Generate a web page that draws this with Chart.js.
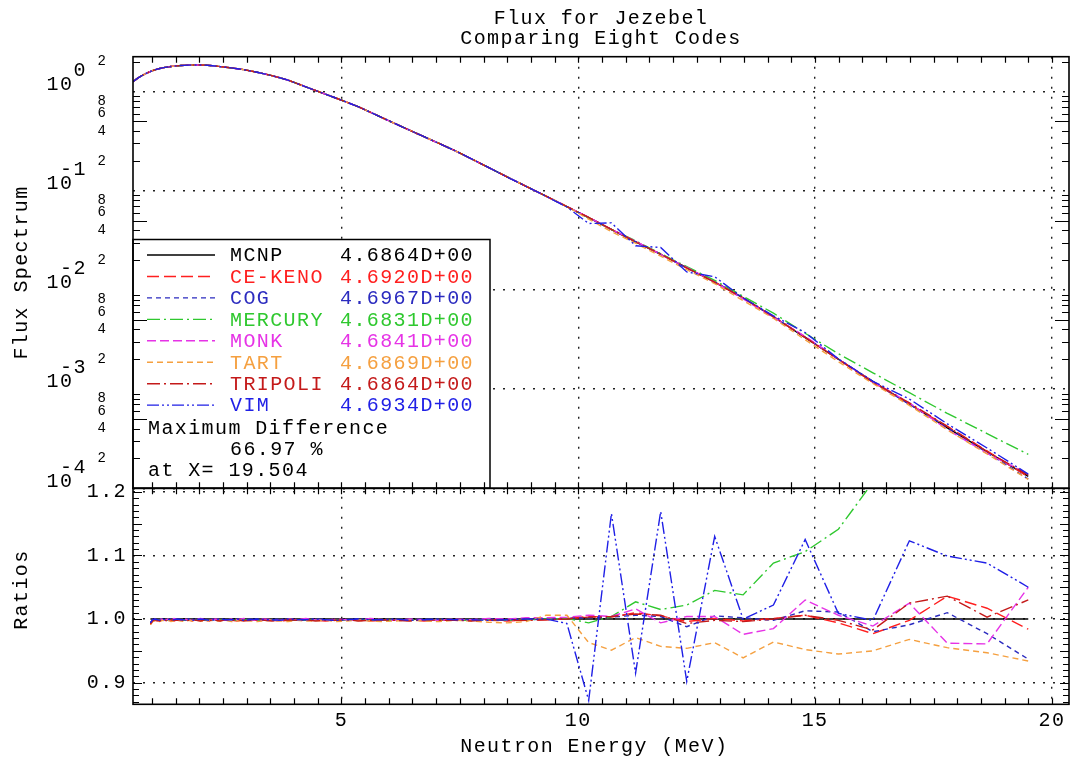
<!DOCTYPE html>
<html>
<head>
<meta charset="utf-8">
<title>Flux for Jezebel</title>
<script src="https://cdn.jsdelivr.net/npm/chart.js@4.4.1/dist/chart.umd.min.js"></script>
<style>
html,body{margin:0;padding:0;background:#fff;overflow:hidden}
#c{display:block}
</style>
</head>
<body>
<canvas id="c" width="1072" height="761"></canvas>
<script>
// ---------------- data ----------------
const codeNames  = ['MCNP','CE-KENO','COG','MERCURY','MONK','TART','TRIPOLI','VIM'];
const codeTotals = ['4.6864D+00','4.6920D+00','4.6967D+00','4.6831D+00','4.6841D+00','4.6869D+00','4.6864D+00','4.6934D+00'];

// energies (MeV)
const energyFluxOnly = [0.60, 0.70, 0.80, 0.90];
const energyLow = [
  0.968,1.014,1.062,1.112,1.165,1.220,1.277,1.338,1.401,1.467,
  1.537,1.610,1.686,1.765,1.849,1.936,2.028,2.124,2.224,2.329,
  2.440,2.555,2.676,2.802,2.935,3.074,3.219,3.371,3.531,3.698,
  3.873,4.056,4.248,4.448,4.659,4.879,5.110,5.352,5.605,5.870,
  6.147,6.438,6.743,7.062,7.396,7.746,8.112,8.496,8.898];
const energyHigh = [9.32,9.76,10.22,10.70,11.21,11.74,12.29,12.88,13.48,14.12,14.79,15.49,16.22,16.99,17.79,18.63,19.50];

// flux below 9.3 MeV (all eight codes coincide there)
const fluxLow = [
  1.259,1.368,1.462,1.545,
  1.596,1.629,1.660,1.687,1.710,1.734,1.754,1.774,1.791,1.807,
  1.820,1.832,1.841,1.849,1.854,1.858,1.858,1.849,1.837,1.816,
  1.786,1.762,1.734,1.702,1.667,1.618,1.567,1.510,1.449,1.380,
  1.306,1.211,1.117,1.030,0.944,0.863,0.783,0.705,0.622,0.543,
  0.472,0.408,0.351,0.300,0.254,0.210,0.171,0.138,0.111];

// flux above 9.3 MeV, one list per code
const fluxHighMCNP    = [0.0883,0.0692,0.0537,0.0407,0.0305,0.0229,0.0168,0.0120,0.00832,0.00537,0.00331,0.00200,0.00120,0.000708,0.000407,0.000234,0.000132];
const fluxHighKENO    = [0.0882,0.0693,0.0539,0.0408,0.0308,0.0230,0.0167,0.0120,0.00830,0.00538,0.00333,0.00199,0.00117,0.000707,0.000422,0.000238,0.000130];
const fluxHighCOG     = [0.0883,0.0693,0.0538,0.0408,0.0307,0.0230,0.0166,0.0121,0.00834,0.00536,0.00335,0.00202,0.00118,0.000702,0.000411,0.000229,0.000124];
const fluxHighMERCURY = [0.0883,0.0693,0.0534,0.0409,0.0313,0.0232,0.0172,0.0125,0.00864,0.00584,0.00366,0.00228,0.00146,0.000920,0.000570,0.000356,0.000220];
const fluxHighMONK    = [0.0885,0.0694,0.0540,0.0409,0.0310,0.0228,0.0169,0.0120,0.00812,0.00529,0.00341,0.00201,0.00119,0.000726,0.000392,0.000225,0.000139];
const fluxHighTART    = [0.0888,0.0696,0.0517,0.0387,0.0296,0.0219,0.0160,0.0116,0.00781,0.00518,0.00315,0.00189,0.00114,0.000685,0.000389,0.000222,0.000123];
const fluxHighTRIPOLI = [0.0882,0.0692,0.0539,0.0409,0.0307,0.0230,0.0167,0.0120,0.00829,0.00537,0.00333,0.00200,0.00118,0.000726,0.000422,0.000235,0.000136];
const fluxHighVIM     = [0.0883,0.0687,0.0468,0.0475,0.0279,0.0268,0.0152,0.0136,0.00832,0.00549,0.00372,0.00202,0.00120,0.000795,0.000447,0.000255,0.000139];

// ratios to MCNP, below 9.3 MeV
const ratioLowMCNP = [
  1,1,1,1,1,1,1,1,1,1, 1,1,1,1,1,1,1,1,1,1, 1,1,1,1,1,1,1,1,1,1, 1,1,1,1,1,1,1,1,1,1, 1,1,1,1,1,1,1,1,1];
const ratioLowKENO = [
  0.992,0.996,0.998,0.997,0.999,0.997,0.998,0.999,0.998,0.997,
  0.999,0.998,0.998,0.999,0.997,0.998,0.999,0.998,0.997,0.998,
  0.999,0.998,0.998,0.997,0.999,0.998,0.998,0.999,0.998,0.997,
  0.998,0.999,0.998,0.998,0.997,0.998,0.999,0.998,0.997,0.998,
  0.998,0.999,0.997,0.998,0.998,0.999,0.998,0.997,0.998];
const ratioLowCOG = [
  0.995,0.998,1.000,0.999,0.998,1.000,0.999,0.998,1.000,0.999,
  0.999,1.000,0.998,0.999,1.000,0.999,0.998,0.999,1.000,0.999,
  0.998,1.000,0.999,0.999,0.998,1.000,0.999,0.998,0.999,1.000,
  0.999,0.999,0.998,1.000,0.999,0.998,0.999,1.000,0.999,0.999,
  0.998,0.999,1.000,0.999,0.998,0.999,1.000,0.999,0.999];
const ratioLowMERCURY = [
  0.994,0.997,0.999,0.998,0.998,0.999,0.998,0.999,0.998,0.998,
  0.999,0.999,0.998,0.998,0.999,0.998,0.999,0.998,0.998,0.999,
  0.998,0.999,0.999,0.998,0.998,0.999,0.998,0.999,0.998,0.998,
  0.999,0.998,0.998,0.999,0.998,0.999,0.998,0.998,0.999,0.998,
  0.998,0.999,0.998,0.999,0.998,0.998,0.999,0.998,0.999];
const ratioLowMONK = [
  0.993,0.998,1.000,0.998,1.001,0.999,0.998,1.000,0.999,1.001,
  0.999,0.998,1.000,0.999,0.998,1.000,1.001,0.999,0.998,1.000,
  0.999,0.998,1.000,0.999,1.001,0.998,0.999,1.000,0.999,0.998,
  1.000,0.999,1.001,0.999,0.998,1.000,0.999,0.998,1.001,0.999,
  0.998,1.000,0.999,0.998,1.000,0.999,1.001,1.000,1.002];
const ratioLowTART = [
  0.991,0.996,0.998,0.997,0.996,0.998,0.997,0.998,0.996,0.997,
  0.998,0.997,0.996,0.998,0.997,0.998,0.997,0.996,0.998,0.997,
  0.997,0.998,0.996,0.997,0.998,0.997,0.996,0.997,0.998,0.997,
  0.996,0.998,0.997,0.997,0.998,0.996,0.997,0.998,0.997,0.996,
  0.997,0.998,0.997,0.996,0.998,0.997,0.995,0.994,0.996];
const ratioLowTRIPOLI = [
  0.992,0.997,0.999,0.998,0.997,0.999,0.998,0.997,0.999,0.998,
  0.998,0.999,0.997,0.998,0.999,0.998,0.997,0.999,0.998,0.998,
  0.997,0.999,0.998,0.999,0.997,0.998,0.999,0.998,0.997,0.998,
  0.999,0.998,0.999,0.997,0.998,0.998,0.999,0.997,0.998,0.999,
  0.998,0.997,0.999,0.998,0.998,0.997,0.999,0.998,0.998];
const ratioLowVIM = [
  0.994,0.999,1.000,0.999,0.998,1.000,0.999,1.000,0.998,0.999,
  1.000,0.999,0.999,1.000,0.998,0.999,1.000,0.999,0.998,0.999,
  1.000,0.999,0.999,1.000,0.998,0.999,1.000,0.999,0.999,0.998,
  1.000,0.999,0.999,1.000,0.999,0.998,0.999,1.000,0.999,0.999,
  1.000,0.998,0.999,1.000,0.999,0.999,0.998,0.999,1.000];

// ratios to MCNP, above 9.3 MeV
const ratioHighMCNP    = [1,1,1,1,1,1,1,1,1,1,1,1,1,1,1,1,1];
const ratioHighKENO    = [0.999,1.001,1.004,1.003,1.010,1.005,0.996,1.001,0.997,1.001,1.006,0.994,0.977,0.998,1.036,1.017,0.984];
const ratioHighCOG     = [1.000,1.001,1.002,1.003,1.006,1.004,0.988,1.005,1.002,0.998,1.013,1.011,0.980,0.991,1.010,0.977,0.937];
const ratioHighMERCURY = [1.000,1.001,0.994,1.004,1.027,1.015,1.022,1.045,1.038,1.088,1.106,1.141,1.215,1.300,1.400,1.520,1.670];
const ratioHighMONK    = [1.002,1.003,1.006,1.004,1.016,0.994,1.004,1.004,0.976,0.985,1.030,1.006,0.989,1.025,0.962,0.961,1.050];
const ratioHighTART    = [1.006,1.006,0.963,0.951,0.971,0.957,0.954,0.963,0.939,0.964,0.952,0.945,0.950,0.968,0.955,0.947,0.934];
const ratioHighTRIPOLI = [0.999,1.000,1.003,1.004,1.008,1.006,0.993,0.998,0.996,1.000,1.006,0.998,0.983,1.025,1.036,1.003,1.030];
const ratioHighVIM     = [1.000,0.993,0.872,1.166,0.915,1.169,0.902,1.130,1.000,1.022,1.125,1.009,0.998,1.123,1.099,1.088,1.050];

// tick values / labels
const xTickValues     = [5, 10, 15, 20];
const fluxTickValues  = [1e-4,2e-4,4e-4,6e-4,8e-4, 1e-3,2e-3,4e-3,6e-3,8e-3, 1e-2,2e-2,4e-2,6e-2,8e-2, 1e-1,2e-1,4e-1,6e-1,8e-1, 1,2];
const ratioTickValues = [0.9, 1.0, 1.1, 1.2];
const maxDiffLines    = ['Maximum Difference', '66.97 %', 'at X= 19.504'];

// ---------------- styling ----------------
const FONT = '"Liberation Mono", "DejaVu Sans Mono", monospace';
const codeStyles = [
  {color:'#000000', dash:[]},
  {color:'#ff1f1f', dash:[12,5]},
  {color:'#2b2bbf', dash:[5,4]},
  {color:'#2fc82f', dash:[13,4,2,4]},
  {color:'#e633e6', dash:[9,4]},
  {color:'#f5a040', dash:[6,4]},
  {color:'#c41a1a', dash:[13,4,2,4]},
  {color:'#1f1fe6', dash:[12,3,2,3,2,3]}
];

const fluxHigh  = [fluxHighMCNP,fluxHighKENO,fluxHighCOG,fluxHighMERCURY,fluxHighMONK,fluxHighTART,fluxHighTRIPOLI,fluxHighVIM];
const ratioLow  = [ratioLowMCNP,ratioLowKENO,ratioLowCOG,ratioLowMERCURY,ratioLowMONK,ratioLowTART,ratioLowTRIPOLI,ratioLowVIM];
const ratioHigh = [ratioHighMCNP,ratioHighKENO,ratioHighCOG,ratioHighMERCURY,ratioHighMONK,ratioHighTART,ratioHighTRIPOLI,ratioHighVIM];

const fluxEnergy = energyFluxOnly.concat(energyLow, energyHigh);
function toPoints(xs, ys) {
  const out = [];
  for (let i = 0; i < Math.min(xs.length, ys.length); i++) out.push({x: xs[i], y: ys[i]});
  return out;
}

const datasets = [];
codeNames.forEach((name, k) => {
  datasets.push({
    label: name, yAxisID: 'y',
    data: toPoints(fluxEnergy, fluxLow.concat(fluxHigh[k])),
    borderColor: codeStyles[k].color, borderDash: codeStyles[k].dash,
    borderWidth: 1.4, pointRadius: 0, tension: 0, fill: false, order: 7 - k
  });
});
codeNames.forEach((name, k) => {
  datasets.push({
    label: name + ' ratio', yAxisID: 'ratio',
    data: toPoints(energyLow, ratioLow[k]).concat(toPoints(energyHigh, ratioHigh[k])),
    borderColor: codeStyles[k].color, borderDash: codeStyles[k].dash,
    borderWidth: 1.4, pointRadius: 0, tension: 0, fill: false, order: 7 - k
  });
});

function decadeOf(v) {
  const l = Math.log10(v);
  return Math.abs(l - Math.round(l)) < 1e-6 ? Math.round(l) : null;
}

// ---------------- plugins ----------------
const panelClip = {
  id: 'panelClip',
  beforeDatasetDraw(chart, args) {
    const s = chart.scales[args.meta.yAxisID];
    const a = chart.chartArea;
    const ctx = chart.ctx;
    ctx.save();
    ctx.beginPath();
    ctx.rect(a.left, s.top, a.right - a.left, s.bottom - s.top);
    ctx.clip();
  },
  afterDatasetDraw(chart) { chart.ctx.restore(); }
};

const frameAndLegend = {
  id: 'frameAndLegend',
  beforeDraw(chart) { chart.ctx.letterSpacing = '1.4px'; },
  afterDatasetsDraw(chart) {
    const ctx = chart.ctx;
    const xs = chart.scales.x, ys = chart.scales.y, rs = chart.scales.ratio;
    const L = chart.chartArea.left, R = chart.chartArea.right;
    ctx.save();
    ctx.setLineDash([]);

    // legend box
    const boxTop = 239.5, boxRight = 490;
    ctx.fillStyle = '#ffffff';
    ctx.fillRect(L, boxTop, boxRight - L, ys.bottom - boxTop);
    ctx.strokeStyle = '#000'; ctx.lineWidth = 1.5;
    ctx.strokeRect(L, boxTop, boxRight - L, ys.bottom - boxTop);

    ctx.font = '20px ' + FONT;
    ctx.textBaseline = 'middle';
    ctx.textAlign = 'left';
    codeNames.forEach((name, k) => {
      const y = 256 + k * 21.45;
      ctx.strokeStyle = codeStyles[k].color;
      ctx.lineWidth = 1.4;
      ctx.setLineDash(codeStyles[k].dash);
      ctx.beginPath(); ctx.moveTo(147, y - 1); ctx.lineTo(215, y - 1); ctx.stroke();
      ctx.setLineDash([]);
      ctx.fillStyle = codeStyles[k].color;
      ctx.fillText(name, 230, y);
      ctx.fillText(codeTotals[k], 340, y);
    });
    ctx.fillStyle = '#000';
    ctx.fillText(maxDiffLines[0], 148, 429);
    ctx.fillText(maxDiffLines[1], 230, 450);
    ctx.fillText(maxDiffLines[2], 148, 471);

    // frames
    ctx.strokeStyle = '#000'; ctx.lineWidth = 1.6;
    ctx.strokeRect(L, ys.top, R - L, ys.bottom - ys.top);
    ctx.strokeRect(L, rs.top, R - L, rs.bottom - rs.top);

    // inward tick marks
    ctx.lineWidth = 1.2;
    ctx.beginPath();
    for (let v = 1.0; v <= 20.01; v += 0.5) {
      const px = Math.round(xs.getPixelForValue(v)) + 0.5;
      ctx.moveTo(px, ys.top); ctx.lineTo(px, ys.top + 6);
      ctx.moveTo(px, ys.bottom); ctx.lineTo(px, ys.bottom - 6);
      ctx.moveTo(px, rs.top); ctx.lineTo(px, rs.top + 6);
      ctx.moveTo(px, rs.bottom); ctx.lineTo(px, rs.bottom - 6);
    }
    for (let d = -4; d <= 0; d++) {
      for (let m = 2; m <= 9; m++) {
        const v = m * Math.pow(10, d);
        if (v > ys.max) continue;
        const py = Math.round(ys.getPixelForValue(v)) + 0.5;
        const len = m === 5 ? 14 : 7;
        ctx.moveTo(L, py); ctx.lineTo(L + len, py);
        ctx.moveTo(R, py); ctx.lineTo(R - len, py);
      }
    }
    for (let i = 87; i <= 120; i++) {
      const v = i / 100;
      const py = Math.round(rs.getPixelForValue(v)) + 0.5;
      const len = (i % 5 === 0) ? 9 : 6;
      ctx.moveTo(L, py); ctx.lineTo(L + len, py);
      ctx.moveTo(R, py); ctx.lineTo(R - len, py);
    }
    ctx.stroke();
    ctx.restore();
  }
};

// ---------------- chart ----------------
const gridDots = {dash: [2, 8], display: false};

new Chart(document.getElementById('c'), {
  type: 'line',
  data: { datasets },
  options: {
    responsive: false,
    animation: false,
    devicePixelRatio: 1,
    layout: { padding: { left: 0, right: 3, top: 0, bottom: 0 } },
    plugins: {
      legend: { display: false },
      tooltip: { enabled: false },
      title: {
        display: true, fullSize: false,
        text: ['Flux for Jezebel', 'Comparing Eight Codes'],
        color: '#000',
        font: { family: FONT, size: 20, weight: 'normal', lineHeight: 1.02 },
        padding: { top: 8.1, bottom: 7.8 }
      }
    },
    scales: {
      ratio: {
        axis: 'y', type: 'linear', position: 'left', stack: 'panels', stackWeight: 216, weight: 1,
        min: 0.866, max: 1.2055, bounds: 'data',
        afterBuildTicks: s => { s.ticks = ratioTickValues.map(v => ({value: v})); },
        afterFit: s => { s.width = 133; },
        grid: { drawTicks: false, lineWidth: 1.4, color: '#222' },
        border: gridDots,
        ticks: {
          autoSkip: false, padding: 6, color: '#000',
          font: { family: FONT, size: 20, lineHeight: 1.2 },
          callback: v => v.toFixed(1)
        },
        title: { display: true, text: ' Ratios', color: '#000',
                 font: { family: FONT, size: 20, lineHeight: 1.2 }, padding: { top: 10, bottom: 0 } }
      },
      y: {
        type: 'logarithmic', position: 'left', stack: 'panels', stackWeight: 431.6, weight: 2,
        min: 1e-4, max: 2.25, bounds: 'data',
        afterBuildTicks: s => { s.ticks = fluxTickValues.map(v => ({value: v})); },
        afterFit: s => { s.width = 133; },
        grid: {
          drawTicks: false, lineWidth: 1.4,
          color: c => (c.tick && decadeOf(c.tick.value) !== null) ? '#222' : 'rgba(0,0,0,0)'
        },
        border: gridDots,
        ticks: {
          autoSkip: false, padding: 6, color: '#000', crossAlign: 'near',
          font: c => (c.tick && decadeOf(c.tick.value) !== null)
            ? { family: FONT, size: 20, lineHeight: '14px' }
            : { family: FONT, size: 14, lineHeight: 1.2 },
          callback: v => {
            const d = decadeOf(v);
            if (d !== null) return [String(d) + '   ', '10    ', '', ''];
            const m = Math.round(v / Math.pow(10, Math.floor(Math.log10(v) + 1e-9)));
            return String(m) + '  ';
          }
        },
        title: { display: true, text: 'Flux Spectrum', color: '#000',
                 font: { family: FONT, size: 20, lineHeight: 1.2 }, padding: { top: 10, bottom: 0 } }
      },
      x: {
        type: 'linear', position: 'bottom', min: 0.6, max: 20.36, bounds: 'data',
        afterBuildTicks: s => { s.ticks = xTickValues.map(v => ({value: v})); },
        afterFit: s => { s.height = 56.7; },
        grid: { drawTicks: false, lineWidth: 1.4, color: '#222' },
        border: gridDots,
        ticks: {
          autoSkip: false, maxRotation: 0, padding: 4, color: '#000',
          font: { family: FONT, size: 20, lineHeight: 1.2 },
          callback: v => String(v)
        },
        title: { display: true, text: 'Neutron Energy (MeV) ', color: '#000',
                 font: { family: FONT, size: 20, lineHeight: 1.2 }, padding: { top: 0, bottom: 2 } }
      }
    }
  },
  plugins: [panelClip, frameAndLegend]
});
</script>
</body>
</html>
